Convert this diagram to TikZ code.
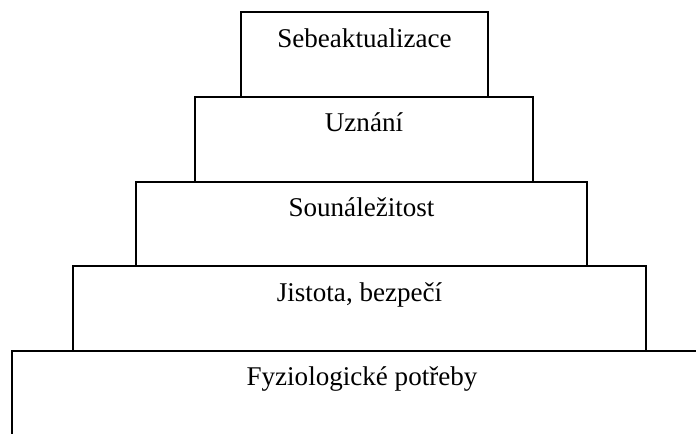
\documentclass[tikz,border=0pt]{standalone}
\usepackage{fontspec}
\setmainfont{Liberation Serif}
\begin{document}
\begin{tikzpicture}[x=0.75pt,y=-0.75pt,
  level/.style={draw=black,line width=2pt},
  lbl/.style={anchor=base,inner sep=0pt,font=\fontsize{20.3}{24}\selectfont}]
\useasboundingbox (0,0) rectangle (696,434);
% stacked levels of the pyramid, top to bottom
\draw[level] (241,12) rectangle (488,97);
\draw[level] (195,97) rectangle (533,182);
\draw[level] (136,182) rectangle (587,266);
\draw[level] (73,266) rectangle (646,351);
% open base level
\draw[level] (12,436) -- (12,351) -- (698,351);
% labels
\node[lbl] (l1) at (364.5,48) {Sebeaktualizace};
\node[lbl] (l2) at (364,132) {Uznání};
\node[lbl] (l3) at (361.5,217) {Sounáležitost};
\node[lbl] (l4) at (359.5,302) {Jistota, bezpečí};
\node[lbl] (l5) at (362,386) {Fyziologické potřeby};
\end{tikzpicture}
\end{document}
